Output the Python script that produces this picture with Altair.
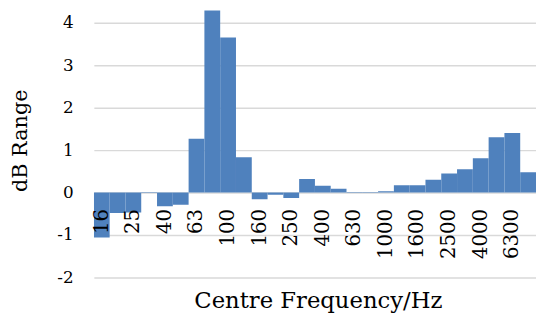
import altair as alt
import pandas as pd

freqs = ["16", "20", "25", "31.5", "40", "50", "63", "80", "100", "125", "160", "200",
         "250", "315", "400", "500", "630", "800", "1000", "1250", "1600", "2000",
         "2500", "3150", "4000", "5000", "6300", "8000"]
db_range = [-1.06, -0.48, -0.47, -0.01, -0.32, -0.29, 1.27, 4.29, 3.65, 0.83, -0.16, -0.05,
            -0.13, 0.32, 0.16, 0.09, 0.01, 0.01, 0.03, 0.17, 0.17, 0.30,
            0.45, 0.55, 0.81, 1.30, 1.40, 0.48]
shown_labels = ["16", "25", "40", "63", "100", "160", "250", "400", "630", "1000",
                "1600", "2500", "4000", "6300"]
y_ticks = [-2, -1, 0, 1, 2, 3, 4]

df = pd.DataFrame({"freq": freqs, "val": db_range})

FONT = "DejaVu Serif"

chart = alt.Chart(df).mark_bar(color="#4F81BD", clip=True).encode(
    x=alt.X("freq:N", sort=freqs,
            scale=alt.Scale(paddingInner=0, paddingOuter=0),
            axis=alt.Axis(values=shown_labels, labelAngle=270, labelAlign="right",
                          labelBaseline="middle", labelPadding=16, ticks=False,
                          domain=False, offset=-86, labelFont=FONT, labelFontSize=20,
                          labelColor="black", labelOverlap=False, zindex=1,
                          title="Centre Frequency/Hz", titleFont=FONT, titleFontSize=23,
                          titleFontWeight="normal", titleColor="black",
                          titleX=227, titleY=116, titleBaseline="alphabetic",
                          titleAlign="center")),
    y=alt.Y("val:Q", scale=alt.Scale(domain=[-2, 4.3], nice=False, zero=False),
            axis=alt.Axis(values=y_ticks, ticks=False, domain=False, labelPadding=21,
                          labelExpr="'' + datum.value",
                          labelFont=FONT, labelFontSize=17, labelColor="black",
                          gridColor="#d9d9d9", gridWidth=1.5,
                          title="dB Range", titleFont=FONT, titleFontSize=21,
                          titleFontWeight="normal", titleColor="black",
                          titleAngle=270, titleX=-68, titleY=132,
                          titleBaseline="alphabetic", titleAlign="center")),
).properties(
    width=448, height=271,
    autosize=alt.AutoSizeParams(type="none"),
    padding={"left": 87, "top": 0, "right": 0, "bottom": 34},
).configure_view(stroke=None).configure_axisX(grid=False)

chart.save("out.html", embed_options={"renderer": "svg", "actions": False})
